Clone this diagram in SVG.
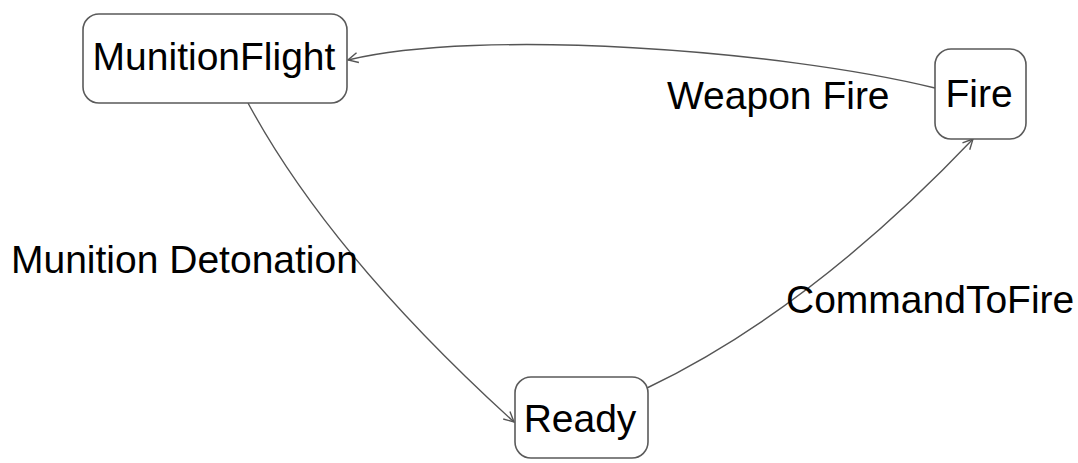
<svg xmlns="http://www.w3.org/2000/svg" width="1078" height="463" viewBox="0 0 1078 463">
<style>
.node{fill:#fff;stroke:#5a5a5a;stroke-width:1.6}
.lbl{font-family:"Liberation Sans",Arial,sans-serif;font-size:39px;fill:#000}
.edge{fill:none;stroke:#555;stroke-width:1.4}
</style>
<defs>
<marker id="arr" viewBox="0 0 12 12" refX="11" refY="6" markerWidth="12" markerHeight="12" markerUnits="userSpaceOnUse" orient="auto">
<path d="M1,1 L11,6 L1,11" fill="none" stroke="#555" stroke-width="1.4"/>
</marker>
</defs>
<rect width="1078" height="463" fill="#fff"/>
<g id="connectors">
<path class="edge" d="M935,88 C780,50 480,28 348,60" marker-end="url(#arr)"/>
<path class="edge" d="M248,103 Q330,255 514,422" marker-end="url(#arr)"/>
<path class="edge" d="M647,388 Q810,310 973,139" marker-end="url(#arr)"/>
</g>
<g id="edge-labels">
<text class="lbl" x="667" y="109">Weapon Fire</text>
<text class="lbl" x="11" y="273">Munition Detonation</text>
<text class="lbl" x="786" y="313">CommandToFire</text>
</g>
<g id="MunitionFlight">
<rect class="node" x="83" y="14" width="264" height="89" rx="16"/>
<text class="lbl" x="214" y="70" text-anchor="middle">MunitionFlight</text>
</g>
<g id="Fire">
<rect class="node" x="935" y="49" width="91" height="90" rx="16"/>
<text class="lbl" x="979" y="107" text-anchor="middle">Fire</text>
</g>
<g id="Ready">
<rect class="node" x="515" y="377" width="133" height="81" rx="16"/>
<text class="lbl" x="580" y="432" text-anchor="middle">Ready</text>
</g>
</svg>
